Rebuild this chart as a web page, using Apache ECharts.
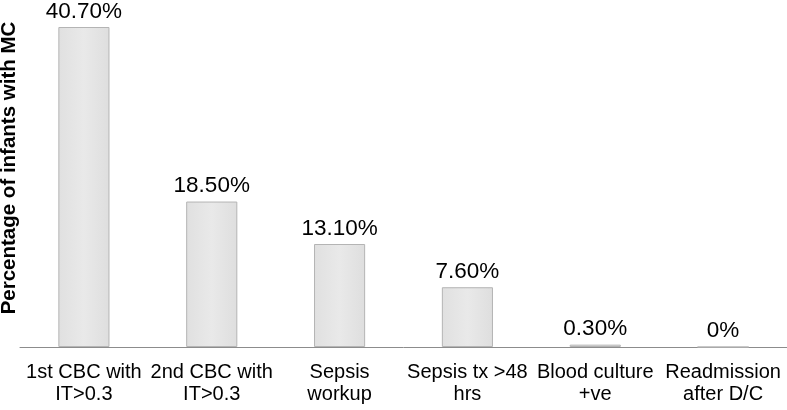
<!DOCTYPE html>
<html>
<head>
<meta charset="utf-8">
<script src="https://cdn.jsdelivr.net/npm/echarts@6/dist/echarts.min.js"></script>
<style>
  html, body { margin: 0; padding: 0; background: #fff; }
  #chart { width: 787px; height: 410px; }
</style>
</head>
<body>
<div id="chart"></div>
<script>
var categories = ['1st CBC with\nIT>0.3', '2nd CBC with\nIT>0.3', 'Sepsis\nworkup', 'Sepsis tx >48\nhrs', 'Blood culture\n+ve', 'Readmission\nafter D/C'];
var values = [40.7, 18.5, 13.1, 7.6, 0.3, 0];
var valueLabels = ['40.70%', '18.50%', '13.10%', '7.60%', '0.30%', '0%'];

(function () {
    var myChart = echarts.init(document.getElementById('chart'))

    var option = {
        animation: false,
        grid: {
            left: 20,
            right: 0,
            top: 27,
            bottom: 63,
            outerBoundsMode: 'none'
        },
        xAxis: {
            type: 'category',
            data: categories,
            axisTick: { show: false },
            axisLine: {
                lineStyle: { color: '#8c8c8c', width: 1 }
            },
            axisLabel: {
                color: '#000',
                fontFamily: 'Liberation Sans',
                fontSize: 20,
                lineHeight: 22,
                margin: 14,
                interval: 0
            }
        },
        yAxis: {
            type: 'value',
            min: 0,
            max: 'dataMax',
            name: 'Percentage of infants with MC',
            nameLocation: 'middle',
            nameGap: 0,
            nameTextStyle: {
                color: '#000',
                fontFamily: 'Liberation Sans',
                fontWeight: 'bold',
                fontSize: 20.5,
                // 标题整体往上挪一点
                padding: [0, 0, 0, 38]
            },
            axisLine: { show: false },
            axisTick: { show: false },
            axisLabel: { show: false },
            splitLine: { show: false }
        },
        series: [
            {
                type: 'bar',
                data: values,
                barWidth: '40%',
                itemStyle: {
                    color: new echarts.graphic.LinearGradient(0, 0, 1, 0, [
                        { offset: 0, color: '#e0e0e0' },
                        { offset: 0.5, color: '#e9e9e9' },
                        { offset: 1, color: '#dedede' }
                    ]),
                    borderColor: '#b4b4b4',
                    borderWidth: 1
                },
                label: {
                    show: true,
                    position: 'top',
                    distance: 4,
                    color: '#000',
                    fontFamily: 'Liberation Sans',
                    fontSize: 22.5,
                    formatter: function (p) {
                        return valueLabels[p.dataIndex]
                    }
                }
            }
        ]
    };

    myChart.setOption(option)

    window.addEventListener('resize', function () {
        myChart.resize()
    })
})();
</script>
</body>
</html>
